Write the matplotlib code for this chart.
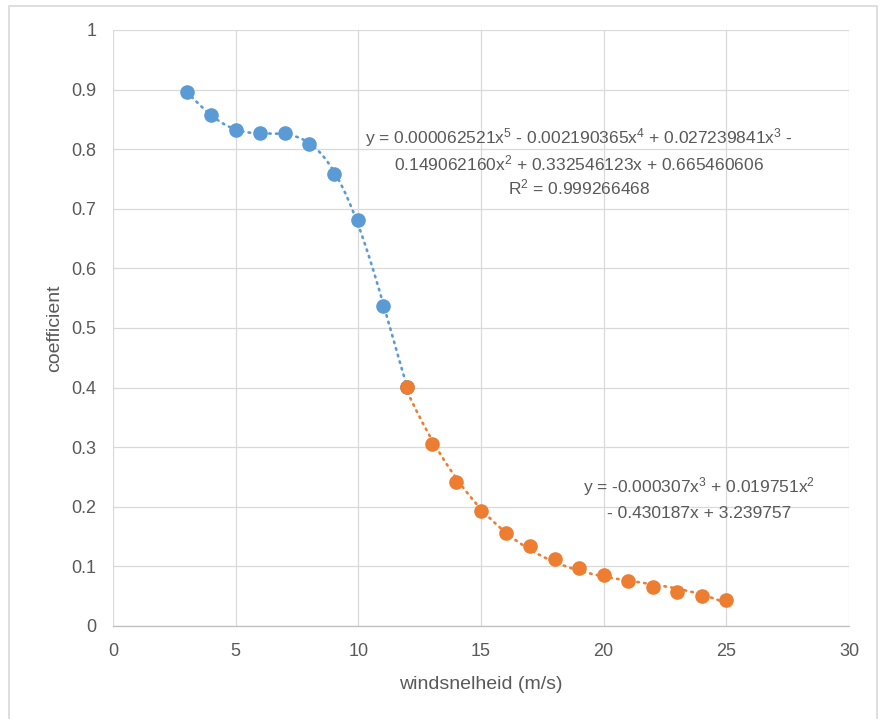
import numpy as np
import matplotlib
matplotlib.use("Agg")
import matplotlib.pyplot as plt
from matplotlib.patches import Rectangle

# Liberation Sans for the labels, also for the exponents in the equations
plt.rcParams["font.family"] = ["Liberation Sans", "DejaVu Sans"]
plt.rcParams["mathtext.fontset"] = "custom"
plt.rcParams["mathtext.rm"] = "Liberation Sans"
plt.rcParams["mathtext.it"] = "Liberation Sans:italic"

# wind speed (m/s) and coefficient, below and above rated speed
ws_low = [3, 4, 5, 6, 7, 8, 9, 10, 11, 12]
coef_low = [0.896, 0.857, 0.832, 0.828, 0.827, 0.808, 0.758, 0.682, 0.537, 0.401]
ws_high = [12, 13, 14, 15, 16, 17, 18, 19, 20, 21, 22, 23, 24, 25]
coef_high = [0.401, 0.306, 0.241, 0.193, 0.156, 0.134, 0.112, 0.097, 0.085,
             0.075, 0.066, 0.057, 0.050, 0.044]

x_ticks = [0, 5, 10, 15, 20, 25, 30]
y_ticks = [0, 0.1, 0.2, 0.3, 0.4, 0.5, 0.6, 0.7, 0.8, 0.9, 1]
y_tick_labels = ["0", "0.1", "0.2", "0.3", "0.4", "0.5", "0.6", "0.7", "0.8", "0.9", "1"]

eq_low = ("y = 0.000062521x$^5$ - 0.002190365x$^4$ + 0.027239841x$^3$ -\n"
          "0.149062160x$^2$ + 0.332546123x + 0.665460606\n"
          "R$^2$ = 0.999266468")
eq_high = ("y = -0.000307x$^3$ + 0.019751x$^2$\n"
           "- 0.430187x + 3.239757")

BLUE = "#5B9BD5"
ORANGE = "#ED7D31"
TEXT = "#595959"
GRID = "#D9D9D9"

fig = plt.figure(figsize=(8.8, 7.19), dpi=100)
fig.patch.set_facecolor("white")

# chart frame
fig.patches.append(Rectangle((9 / 880, -0.01), 868 / 880, 1 - 6 / 719 + 0.01,
                             transform=fig.transFigure, fill=False,
                             edgecolor="#D9D9D9", linewidth=1.2))

ax = fig.add_axes([113 / 880, 93 / 719, 736 / 880, 596 / 719])
ax.set_xlim(0, 30)
ax.set_ylim(0, 1)
ax.set_xticks(x_ticks)
ax.set_yticks(y_ticks)
ax.set_yticklabels(y_tick_labels)
ax.grid(True, color=GRID, linewidth=0.9)
ax.set_axisbelow(True)
for side in ("top", "right", "left"):
    ax.spines[side].set_visible(False)
ax.spines["bottom"].set_color("#BFBFBF")
ax.spines["bottom"].set_linewidth(0.9)
ax.tick_params(length=0, colors=TEXT, labelsize=13)
ax.tick_params(axis="y", pad=12)
ax.tick_params(axis="x", pad=12)

# polynomial trendlines fitted to each series
dots = dict(linestyle=(0, (0.6, 2.0)), linewidth=1.9, dash_capstyle="round")
xs = np.linspace(min(ws_low), max(ws_low), 300)
ax.plot(xs, np.polyval(np.polyfit(ws_low, coef_low, 5), xs), color=BLUE, **dots)
xs = np.linspace(min(ws_high), max(ws_high), 300)
ax.plot(xs, np.polyval(np.polyfit(ws_high, coef_high, 3), xs), color=ORANGE, **dots)

ax.plot(ws_low, coef_low, "o", color=BLUE, markersize=9.5, linestyle="none")
ax.plot(ws_high, coef_high, "o", color=ORANGE, markersize=9.5, linestyle="none")

fig.text(579 / 880, 1 - 126 / 719, eq_low, color=TEXT, fontsize=12.5,
         ha="center", va="top", linespacing=1.25)
fig.text(699 / 880, 1 - 475 / 719, eq_high, color=TEXT, fontsize=12.5,
         ha="center", va="top", linespacing=1.65)

ax.set_xlabel("windsnelheid (m/s)", color=TEXT, fontsize=14, labelpad=12)
ax.set_ylabel("coefficient", color=TEXT, fontsize=14, labelpad=6)

fig.savefig("out.png", dpi=100)
